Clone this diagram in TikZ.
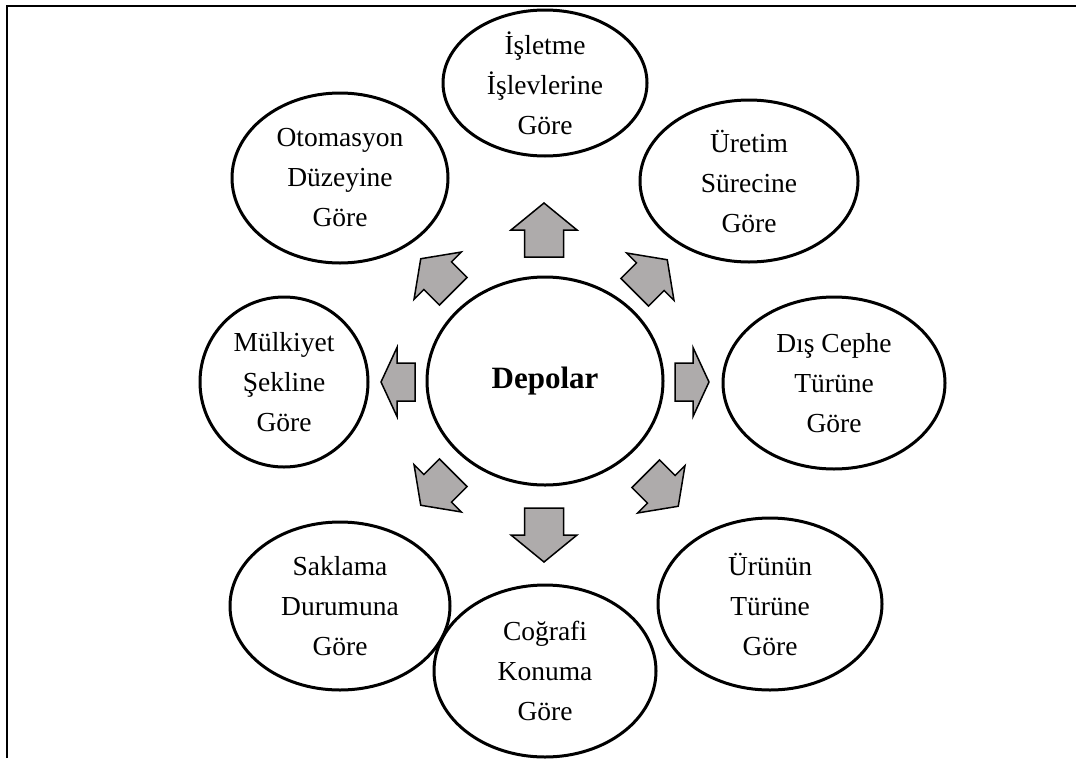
\documentclass[tikz,border=0pt]{standalone}
\usepackage{fontspec}
\setmainfont{Liberation Serif}
\usetikzlibrary{shapes.geometric}
\definecolor{arrowgray}{HTML}{AEABAB}
\tikzset{
  cat/.style={draw=black, line width=3pt, ellipse, inner sep=0pt, align=center,
    font=\fontsize{27.5}{40}\selectfont},
  arrowstyle/.style={draw=black, fill=arrowgray, line width=1.5pt, line join=miter},
  pics/blockarrow/.style n args={4}{code={
    \draw[arrowstyle] (-#1/2,-#4/2) -- (#1/2-#2,-#4/2) -- (#1/2-#2,-#3/2) -- (#1/2,0)
      -- (#1/2-#2,#3/2) -- (#1/2-#2,#4/2) -- (-#1/2,#4/2) -- cycle;
  }}
}
\begin{document}
\begin{tikzpicture}[x=1pt,y=-1pt]
\useasboundingbox (0,0) rectangle (1076,758);
\coordinate (fbl) at (7,758);
\coordinate (ftl) at (7,6);
\coordinate (ftr) at (1076,6);
\draw[line width=2pt] (fbl) -- (ftl) -- (ftr);

\node[draw=black, line width=3pt, ellipse, minimum width=236pt, minimum height=208pt,
  font=\fontsize{31}{38}\selectfont\bfseries] (center) at (545,381) {Depolar};

\node[cat, minimum width=204pt, minimum height=146pt] (isl) at (545,83) {İşletme\\İşlevlerine\\Göre};
\node[cat, minimum width=218pt, minimum height=162pt] (ure) at (749,181) {Üretim\\Sürecine\\Göre};
\node[cat, minimum width=216pt, minimum height=170pt] (oto) at (340,178) {Otomasyon\\Düzeyine\\Göre};
\node[cat, minimum width=222pt, minimum height=172pt] (dis) at (834,383) {Dış Cephe\\Türüne\\Göre};
\node[cat, minimum width=168pt, minimum height=170pt] (mul) at (284,382) {Mülkiyet\\Şekline\\Göre};
\node[cat, minimum width=220pt, minimum height=168pt] (sak) at (340,606) {Saklama\\Durumuna\\Göre};
\node[cat, minimum width=222pt, minimum height=172pt] (cog) at (545,671) {Coğrafi\\Konuma\\Göre};
\node[cat, minimum width=224pt, minimum height=172pt] (uru) at (770,604) {Ürünün\\Türüne\\Göre};

\pic[shift={(544,230)}, rotate=90] {blockarrow={54}{27}{66}{39}};
\pic[shift={(544,535)}, rotate=270] {blockarrow={54}{27}{66}{39}};
\pic[shift={(398,382)}, rotate=180] {blockarrow={34}{16}{69}{38}};
\pic[shift={(692,382)}, rotate=0] {blockarrow={34}{16}{69}{38}};
\pic[shift={(437,275)}, rotate=135] {blockarrow={46}{24}{67}{39}};
\pic[shift={(651,276)}, rotate=45] {blockarrow={46}{24}{67}{39}};
\pic[shift={(437,489)}, rotate=225] {blockarrow={46}{24}{67}{39}};
\pic[shift={(662,490)}, rotate=315] {blockarrow={46}{24}{67}{39}};
\end{tikzpicture}
\end{document}
